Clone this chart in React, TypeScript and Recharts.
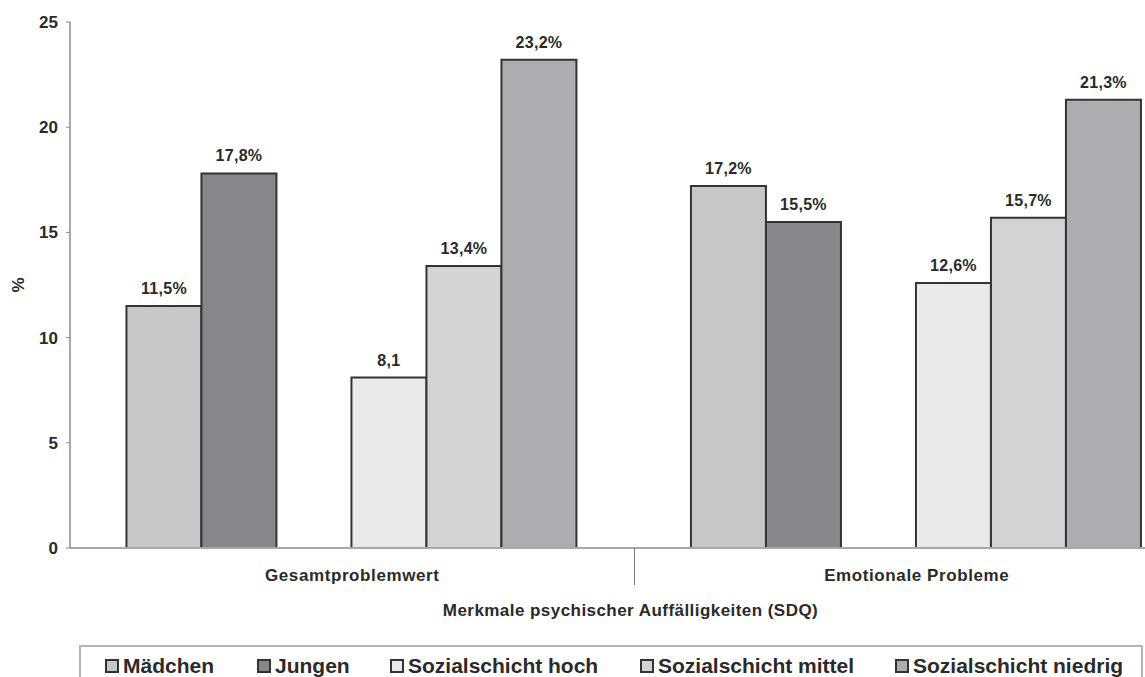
import { BarChart, Bar, XAxis, YAxis, LabelList, Label } from "recharts";

// SDQ shares (%) by group
const categories = ["Gesamtproblemwert", "Emotionale Probleme"];
const maedchen = [11.5, 17.2];
const jungen = [17.8, 15.5];
const schichtHoch = [8.1, 12.6];
const schichtMittel = [13.4, 15.7];
const schichtNiedrig = [23.2, 21.3];
// the first "hoch" label is printed without a percent sign
const schichtHochPercent = [false, true];

const yTicks = [0, 5, 10, 15, 20, 25];

const series = [
  { key: "maedchen", name: "Mädchen", color: "#c6c7c9" },
  { key: "jungen", name: "Jungen", color: "#86878b" },
  { key: "hoch", name: "Sozialschicht hoch", color: "#e8e9eb" },
  { key: "mittel", name: "Sozialschicht mittel", color: "#d2d3d5" },
  { key: "niedrig", name: "Sozialschicht niedrig", color: "#acadb1" },
];

const data = categories.map((category, i) => ({
  category,
  maedchen: maedchen[i],
  jungen: jungen[i],
  gap: null,
  hoch: schichtHoch[i],
  mittel: schichtMittel[i],
  niedrig: schichtNiedrig[i],
}));

const FONT = '"Liberation Sans", Arial, sans-serif';
const TEXT = "#2a2a2a";
const AXIS = "#a8a8a8";
const legendLeft = [105, 257, 390, 640, 895];

const fmt = (v: number, percent = true) =>
  v.toFixed(1).replace(".", ",") + (percent ? "%" : "");

const makeLabel =
  (percentFlags?: boolean[]) =>
  (props: any) => {
    const { x, y, width, value, index } = props;
    if (value == null) return null;
    const pct = percentFlags ? percentFlags[index] : true;
    return (
      <text
        x={x + width / 2}
        y={y - 12}
        textAnchor="middle"
        fontSize={16}
        fontWeight="bold"
        fontFamily={FONT}
        letterSpacing={0.3}
        fill={TEXT}
      >
        {fmt(value, pct)}
      </text>
    );
  };

const CategoryTick = (props: any) => {
  const { x, y, payload, index } = props;
  const half = payload?.offset ?? 282;
  return (
    <g>
      <text
        x={x}
        y={y + 33}
        textAnchor="middle"
        fontSize={17}
        fontWeight="bold"
        fontFamily={FONT}
        letterSpacing={0.6}
        fill={TEXT}
      >
        {payload.value}
      </text>
      {index < categories.length - 1 && (
        <line x1={x + half} x2={x + half} y1={y} y2={y + 37} stroke="#7a7a7a" strokeWidth={1} />
      )}
    </g>
  );
};

export default function App() {
  return (
    <div
      style={{
        position: "absolute",
        left: 0,
        top: 0,
        width: 1145,
        height: 677,
        overflow: "hidden",
        background: "#fff",
        fontFamily: FONT,
      }}
    >
      <BarChart
        width={1215}
        height={677}
        data={data}
        margin={{ top: 22, right: 16, left: 8, bottom: 99 }}
        barCategoryGap="10%"
        barGap={0}
      >
        <YAxis
          width={62}
          domain={[0, 25]}
          ticks={yTicks}
          interval={0}
          tickSize={4}
          tickMargin={8}
          axisLine={{ stroke: AXIS, strokeWidth: 2 }}
          tickLine={{ stroke: "#888" }}
          tick={{ fill: TEXT, fontSize: 17, fontWeight: "bold", fontFamily: FONT }}
        >
          <Label
            content={({ viewBox }: any) => (
              <text
                x={viewBox.x + 10}
                y={viewBox.y + viewBox.height / 2}
                transform={`rotate(-90 ${viewBox.x + 10} ${viewBox.y + viewBox.height / 2})`}
                textAnchor="middle"
                dominantBaseline="central"
                fontSize={17}
                fontWeight="bold"
                fontFamily={FONT}
                fill={TEXT}
              >
                %
              </text>
            )}
          />
        </YAxis>
        <XAxis
          dataKey="category"
          height={30}
          tickLine={false}
          tickSize={0}
          tickMargin={0}
          axisLine={{ stroke: AXIS, strokeWidth: 2 }}
          tick={<CategoryTick />}
        >
          <Label
            content={({ viewBox }: any) => (
              <text
                x={viewBox.x + viewBox.width / 2 - 4}
                y={viewBox.y + 68}
                textAnchor="middle"
                fontSize={17}
                fontWeight="bold"
                fontFamily={FONT}
                letterSpacing={0.45}
                fill={TEXT}
              >
                Merkmale psychischer Auffälligkeiten (SDQ)
              </text>
            )}
          />
        </XAxis>
        <Bar dataKey="maedchen" name="Mädchen" fill={series[0].color} stroke="#333" strokeWidth={2} isAnimationActive={false}>
          <LabelList dataKey="maedchen" content={makeLabel()} />
        </Bar>
        <Bar dataKey="jungen" name="Jungen" fill={series[1].color} stroke="#333" strokeWidth={2} isAnimationActive={false}>
          <LabelList dataKey="jungen" content={makeLabel()} />
        </Bar>
        {/* empty slot between the gender and social-class bars */}
        <Bar dataKey="gap" fill="none" stroke="none" legendType="none" isAnimationActive={false} />
        <Bar dataKey="hoch" name="Sozialschicht hoch" fill={series[2].color} stroke="#333" strokeWidth={2} isAnimationActive={false}>
          <LabelList dataKey="hoch" content={makeLabel(schichtHochPercent)} />
        </Bar>
        <Bar dataKey="mittel" name="Sozialschicht mittel" fill={series[3].color} stroke="#333" strokeWidth={2} isAnimationActive={false}>
          <LabelList dataKey="mittel" content={makeLabel()} />
        </Bar>
        <Bar dataKey="niedrig" name="Sozialschicht niedrig" fill={series[4].color} stroke="#333" strokeWidth={2} isAnimationActive={false}>
          <LabelList dataKey="niedrig" content={makeLabel()} />
        </Bar>
      </BarChart>

      {/* legend box, cut off at the bottom edge */}
      <div
        style={{
          position: "absolute",
          left: 79,
          top: 645,
          width: 1060,
          height: 50,
          border: "2px solid #b4b4b4",
        }}
      />
      {series.map((s, i) => (
        <div
          key={s.key}
          style={{
            position: "absolute",
            left: legendLeft[i],
            top: 654,
            display: "flex",
            alignItems: "center",
            fontSize: 21,
            fontWeight: "bold",
            color: TEXT,
            whiteSpace: "nowrap",
            lineHeight: "24px",
          }}
        >
          <span
            style={{
              display: "inline-block",
              width: 10,
              height: 10,
              background: s.color,
              border: "2px solid #333",
              marginRight: 4,
            }}
          />
          {s.name}
        </div>
      ))}
    </div>
  );
}
